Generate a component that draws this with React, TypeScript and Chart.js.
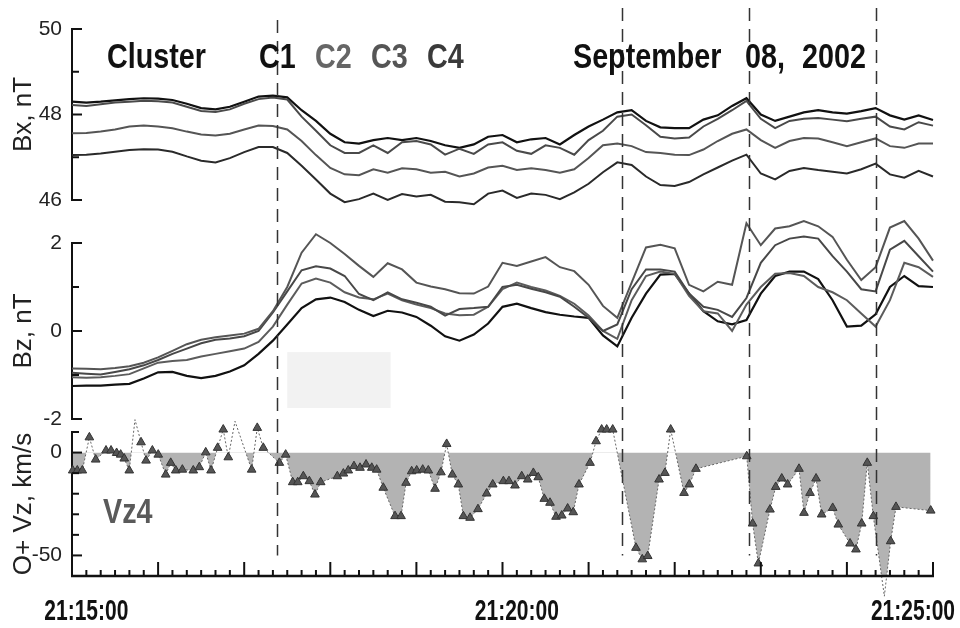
import React, { useEffect, useRef } from 'react';
import { Chart, registerables } from 'chart.js';

Chart.register(...registerables);
Chart.defaults.font.family = "'Liberation Sans', Arial, sans-serif";

// time in seconds from axis start (21:14:50)
const timeSec = [0, 10, 20, 30, 40, 50, 60, 70, 80, 90, 100, 110, 120, 130, 140, 150, 160, 170, 180, 190, 200, 210, 220, 230, 240, 250, 260, 270, 280, 290, 300, 310, 320, 330, 340, 350, 360, 370, 380, 390, 400, 410, 420, 430, 440, 450, 460, 470, 480, 490, 500, 510, 520, 530, 540, 550, 560, 570, 580, 590, 600];

// Bx, nT
const bxC1 = [48.30, 48.28, 48.30, 48.33, 48.36, 48.38, 48.37, 48.34, 48.25, 48.15, 48.12, 48.18, 48.30, 48.42, 48.44, 48.40, 48.10, 47.85, 47.55, 47.35, 47.32, 47.40, 47.45, 47.40, 47.45, 47.38, 47.28, 47.22, 47.30, 47.48, 47.52, 47.35, 47.42, 47.45, 47.30, 47.52, 47.72, 47.88, 48.05, 48.10, 47.85, 47.70, 47.68, 47.68, 47.88, 47.98, 48.20, 48.38, 48.00, 47.85, 47.95, 48.05, 48.10, 48.05, 48.02, 48.08, 48.15, 47.98, 47.88, 47.98, 47.87];
const bxC2 = [48.22, 48.20, 48.24, 48.28, 48.30, 48.32, 48.31, 48.28, 48.18, 48.08, 48.06, 48.12, 48.25, 48.36, 48.40, 48.35, 47.95, 47.62, 47.28, 47.10, 47.10, 47.28, 47.10, 47.35, 47.38, 47.30, 47.06, 47.20, 47.08, 47.30, 47.35, 47.15, 47.08, 47.28, 47.22, 47.06, 47.40, 47.62, 47.95, 48.00, 47.75, 47.48, 47.44, 47.46, 47.72, 47.90, 48.10, 48.32, 47.90, 47.68, 47.85, 47.90, 47.92, 47.88, 47.84, 47.90, 47.95, 47.72, 47.65, 47.82, 47.74];
const bxC3 = [47.56, 47.57, 47.60, 47.65, 47.72, 47.74, 47.72, 47.68, 47.60, 47.53, 47.51, 47.55, 47.65, 47.74, 47.73, 47.65, 47.38, 47.05, 46.75, 46.60, 46.58, 46.72, 46.64, 46.74, 46.72, 46.64, 46.66, 46.55, 46.62, 46.76, 46.80, 46.70, 46.74, 46.70, 46.64, 46.72, 46.98, 47.28, 47.32, 47.26, 47.12, 47.10, 47.06, 47.05, 47.18, 47.38, 47.55, 47.65, 47.40, 47.22, 47.38, 47.45, 47.44, 47.35, 47.26, 47.35, 47.44, 47.26, 47.22, 47.32, 47.32];
const bxC4 = [47.05, 47.06, 47.09, 47.13, 47.17, 47.19, 47.18, 47.13, 47.02, 46.92, 46.88, 46.98, 47.12, 47.24, 47.24, 47.10, 46.80, 46.48, 46.15, 45.95, 46.02, 46.15, 46.00, 46.14, 46.08, 46.12, 45.96, 45.95, 45.90, 46.15, 46.22, 46.05, 46.15, 46.12, 46.02, 46.18, 46.38, 46.65, 46.88, 46.82, 46.55, 46.35, 46.33, 46.42, 46.60, 46.76, 46.92, 47.06, 46.62, 46.48, 46.68, 46.75, 46.70, 46.66, 46.62, 46.72, 46.85, 46.60, 46.52, 46.68, 46.55];

// Bz, nT
const bzC1 = [-0.85, -0.86, -0.87, -0.84, -0.80, -0.72, -0.60, -0.45, -0.30, -0.20, -0.14, -0.10, -0.06, 0.05, 0.45, 1.00, 1.78, 2.20, 2.00, 1.75, 1.48, 1.23, 1.54, 1.40, 1.10, 1.01, 0.95, 0.86, 0.85, 1.01, 1.55, 1.48, 1.58, 1.68, 1.45, 1.36, 1.05, 0.57, 0.30, 1.10, 1.90, 1.96, 1.88, 1.05, 0.90, 1.12, 1.05, 2.45, 1.95, 2.33, 2.38, 2.50, 2.38, 2.14, 1.62, 1.16, 1.45, 2.35, 2.50, 2.10, 1.60];
const bzC2 = [-0.95, -0.97, -0.99, -0.93, -0.87, -0.78, -0.66, -0.52, -0.40, -0.28, -0.20, -0.17, -0.12, 0.00, 0.42, 0.90, 1.38, 1.47, 1.42, 1.25, 0.84, 0.70, 0.88, 0.72, 0.64, 0.55, 0.35, 0.50, 0.52, 0.55, 1.00, 1.05, 0.96, 0.88, 0.78, 0.55, 0.30, 0.00, 0.15, 0.95, 1.40, 1.40, 1.35, 0.85, 0.55, 0.48, 0.32, 0.75, 1.55, 1.95, 2.10, 2.15, 2.10, 1.70, 1.35, 0.95, 0.90, 1.85, 2.05, 1.70, 1.35];
const bzC3 = [-1.05, -1.06, -1.05, -1.02, -0.98, -0.85, -0.72, -0.68, -0.66, -0.58, -0.52, -0.46, -0.40, -0.25, 0.10, 0.60, 1.08, 1.19, 1.10, 0.88, 0.76, 0.72, 0.85, 0.70, 0.60, 0.52, 0.40, 0.36, 0.37, 0.55, 0.95, 1.10, 1.00, 0.92, 0.80, 0.62, 0.35, 0.00, -0.18, 0.70, 1.25, 1.35, 1.30, 0.80, 0.45, 0.40, 0.00, 0.60, 1.00, 1.30, 1.32, 1.25, 1.00, 0.88, 0.70, 0.40, 0.10, 0.70, 1.55, 1.45, 1.23];
const bzC4 = [-1.25, -1.24, -1.24, -1.22, -1.20, -1.08, -0.94, -0.93, -1.02, -1.07, -1.02, -0.92, -0.78, -0.52, -0.22, 0.15, 0.52, 0.72, 0.76, 0.66, 0.48, 0.34, 0.46, 0.42, 0.32, 0.12, -0.12, -0.22, -0.08, 0.17, 0.55, 0.62, 0.52, 0.43, 0.37, 0.33, 0.30, -0.10, -0.35, 0.30, 0.85, 1.28, 1.30, 0.85, 0.45, 0.22, 0.15, 0.25, 0.85, 1.25, 1.35, 1.35, 1.18, 0.70, 0.10, 0.12, 0.38, 1.00, 1.25, 1.02, 1.00];

// O+ Vz (C4), km/s
const vzTime = [0.5, 3.7, 7.2, 12.1, 16.5, 23.7, 27.2, 31.1, 33.9, 36.4, 39.9, 43.9, 48.1, 51.6, 56.0, 60.1, 65.3, 68.8, 72.3, 76.9, 84.5, 88.7, 93.2, 96.9, 101.5, 105.4, 108.9, 113.6, 125.2, 129.1, 133.3, 144.5, 148.9, 153.8, 157.3, 161.2, 165.4, 169.3, 173.3, 184.9, 189.1, 192.5, 196.5, 200.7, 204.9, 208.9, 212.3, 216.9, 225.1, 229.3, 232.8, 236.7, 240.2, 244.4, 248.3, 253.0, 257.1, 261.1, 265.0, 269.2, 272.7, 277.4, 282.9, 289.0, 293.2, 300.6, 304.5, 308.7, 313.4, 317.6, 321.5, 324.9, 329.1, 333.1, 337.3, 341.3, 345.4, 349.3, 353.3, 361.0, 365.2, 369.1, 372.6, 376.8, 393.0, 397.4, 401.2, 409.1, 413.2, 417.2, 426.5, 430.2, 434.8, 470.2, 474.3, 478.3, 486.4, 490.4, 494.6, 498.7, 506.6, 510.1, 514.3, 518.5, 522.4, 530.1, 534.0, 542.2, 546.3, 550.3, 554.2, 558.4, 566.1, 570.5, 574.2, 598.4];
const vzValue = [-8.7, -8.7, -8.7, 7.4, -3.4, 1.0, 1.0, -0.2, -1.0, -2.9, -8.7, 16.0, 5.0, -3.9, 1.0, -1.0, -10.7, -5.0, -8.7, -8.3, -8.7, -7.1, 0.1, -8.7, 2.3, 11.2, -2.3, 15.2, -8.3, 12.0, 2.3, -5.0, -1.0, -14.4, -14.4, -11.5, -13.9, -20.4, -14.4, -11.5, -10.2, -8.7, -6.6, -7.4, -5.8, -7.4, -8.3, -17.1, -30.9, -30.9, -14.7, -9.1, -8.7, -8.3, -8.7, -17.6, -9.6, 4.2, -10.7, -15.5, -30.9, -31.7, -27.5, -19.9, -15.5, -13.9, -13.9, -16.0, -11.5, -13.1, -9.9, -12.0, -22.5, -24.4, -31.2, -30.6, -27.2, -29.0, -15.5, -5.0, 5.5, 11.2, 11.2, 11.2, -46.3, -51.9, -50.3, -13.1, -9.9, 11.2, -19.6, -15.5, -7.9, -1.8, -34.5, -53.9, -27.7, -16.7, -12.6, -15.5, -7.9, -29.3, -19.6, -12.6, -30.1, -26.9, -35.0, -44.2, -47.1, -34.5, -5.0, -30.9, -69.8, -43.1, -26.4, -28.2];

// event markers (dashed verticals), s
const eventTimes = [143, 383, 472, 560];

// axis ticks
const bxTicks = [46, 47, 48, 49, 50];
const bxLabeled = [46, 48, 50];
const bzTicks = [-2, -1, 0, 1, 2];
const bzLabeled = [-2, 0, 2];
const vzTicks = [-50, -40, -30, -20, -10, 0, 10];
const vzLabeled = [-50, 0];
const xLabelTimes = [10, 310, 610];
const xLabelTexts = ['21:15:00', '21:20:00', '21:25:00'];

// faint rectangle present in the figure (data coords of Bz panel)
const shadeBox = { x0: 150, x1: 222, yTop: -0.48, yBottom: -1.75 };

const W = 960;
const H = 628;

const pts = (ys: number[], xs: number[]) => xs.map((x, i) => ({ x, y: ys[i] }));

const yTickMarks = {
  id: 'yTickMarks',
  afterDraw(chart: any) {
    const s = chart.scales.y;
    const ctx = chart.ctx;
    ctx.save();
    ctx.strokeStyle = '#111';
    ctx.lineWidth = 2;
    s.ticks.forEach((t: any) => {
      const y = s.getPixelForValue(t.value);
      const len = t.label ? 10 : 7;
      ctx.beginPath();
      ctx.moveTo(s.right, y);
      ctx.lineTo(s.right + len, y);
      ctx.stroke();
    });
    ctx.restore();
  },
};

const shadePlugin = {
  id: 'shadeBox',
  beforeDatasetsDraw(chart: any) {
    const { ctx, scales: { x, y } } = chart;
    const x0 = x.getPixelForValue(shadeBox.x0);
    const x1 = x.getPixelForValue(shadeBox.x1);
    const y0 = y.getPixelForValue(shadeBox.yTop);
    const y1 = y.getPixelForValue(shadeBox.yBottom);
    ctx.save();
    ctx.fillStyle = '#f2f2f2';
    ctx.fillRect(x0, y0, x1 - x0, y1 - y0);
    ctx.restore();
  },
};

const eventLines = {
  id: 'eventLines',
  afterDatasetsDraw(chart: any) {
    const { ctx, scales: { x, y } } = chart;
    ctx.save();
    ctx.setLineDash([13, 8]);
    ctx.strokeStyle = '#333';
    ctx.lineWidth = 1.5;
    eventTimes.forEach((t, i) => {
      const px = Math.round(x.getPixelForValue(t)) + 0.5;
      ctx.beginPath();
      ctx.moveTo(px, i === 0 ? 20 : 8);
      ctx.lineTo(px, y.getPixelForValue(-50));
      ctx.stroke();
    });
    ctx.restore();
  },
};

const timeAxis = {
  id: 'timeAxis',
  afterDraw(chart: any) {
    const { ctx, chartArea, scales: { x } } = chart;
    const yb = chartArea.bottom;
    ctx.save();
    ctx.strokeStyle = '#111';
    ctx.lineWidth = 2.5;
    ctx.beginPath();
    ctx.moveTo(chartArea.left - 1, yb);
    ctx.lineTo(chartArea.right + 1, yb);
    ctx.stroke();
    ctx.lineWidth = 2;
    for (let t = 0; t <= 600; t += 10) {
      const px = x.getPixelForValue(t);
      const len = t % 60 === 0 ? 14 : 6;
      ctx.beginPath();
      ctx.moveTo(px, yb);
      ctx.lineTo(px, yb - len);
      ctx.stroke();
    }
    ctx.fillStyle = '#111';
    ctx.font = "bold 30px 'Liberation Sans', Arial, sans-serif";
    ctx.textAlign = 'center';
    ctx.textBaseline = 'alphabetic';
    const sx = 0.7;
    xLabelTimes.forEach((t, i) => {
      const w = ctx.measureText(xLabelTexts[i]).width * sx;
      let cx = x.getPixelForValue(t);
      if (cx + w / 2 > W - 5) cx = W - 5 - w / 2;
      ctx.save();
      ctx.translate(cx, yb + 44);
      ctx.scale(sx, 1);
      ctx.fillText(xLabelTexts[i], 0, 0);
      ctx.restore();
    });
    ctx.restore();
  },
};

function panelOptions(p: { min: number; max: number; top: number; bottom: number; title: string; ticks: number[]; labeled: number[] }) {
  return {
    responsive: false,
    animation: false,
    devicePixelRatio: 1,
    events: [],
    layout: { padding: { left: 0, right: 27, top: p.top, bottom: H - p.bottom } },
    plugins: { legend: { display: false }, tooltip: { enabled: false } },
    scales: {
      x: { type: 'linear', min: 0, max: 600, display: false },
      y: {
        type: 'linear',
        min: p.min,
        max: p.max,
        afterFit: (s: any) => {
          s.width = 72;
        },
        afterBuildTicks: (s: any) => {
          s.ticks = p.ticks.map((v) => ({ value: v }));
        },
        grid: { display: false, drawTicks: false },
        border: { display: true, color: '#111', width: 2 },
        ticks: {
          autoSkip: false,
          padding: 10,
          color: '#222',
          font: { size: 21 },
          callback: (v: any) => (p.labeled.includes(Number(v)) ? String(v) : ''),
        },
        title: {
          display: true,
          text: p.title,
          color: '#222',
          font: { size: 26 },
          padding: { top: 8, bottom: 0 },
        },
      },
    },
  } as any;
}

const lineDs = (label: string, xs: number[], ys: number[], color: string, width: number) => ({
  label,
  data: pts(ys, xs),
  borderColor: color,
  borderWidth: width,
  pointRadius: 0,
  fill: false,
  clip: false,
});

const headerTexts = [
  { text: 'Cluster', left: 107, color: '#111' },
  { text: 'C1', left: 259, color: '#111' },
  { text: 'C2', left: 315, color: '#666' },
  { text: 'C3', left: 371, color: '#555' },
  { text: 'C4', left: 427, color: '#3a3a3a' },
  { text: 'September', left: 573, color: '#111' },
  { text: '08,', left: 745, color: '#111' },
  { text: '2002', left: 802, color: '#111' },
];

export default function App() {
  const bxRef = useRef<HTMLCanvasElement>(null);
  const bzRef = useRef<HTMLCanvasElement>(null);
  const vzRef = useRef<HTMLCanvasElement>(null);

  useEffect(() => {
    const bx = new Chart(bxRef.current as HTMLCanvasElement, {
      type: 'line',
      data: {
        datasets: [
          lineDs('C4', timeSec, bxC4, '#2a2a2a', 2),
          lineDs('C3', timeSec, bxC3, '#555', 2),
          lineDs('C2', timeSec, bxC2, '#4a4a4a', 2),
          lineDs('C1', timeSec, bxC1, '#111', 2.2),
        ],
      },
      options: panelOptions({ min: 46, max: 50, top: 29, bottom: 200, title: 'Bx, nT', ticks: bxTicks, labeled: bxLabeled }),
      plugins: [yTickMarks],
    } as any);

    const bz = new Chart(bzRef.current as HTMLCanvasElement, {
      type: 'line',
      data: {
        datasets: [
          lineDs('C1', timeSec, bzC1, '#555', 2),
          lineDs('C2', timeSec, bzC2, '#484848', 2),
          lineDs('C3', timeSec, bzC3, '#5c5c5c', 2),
          lineDs('C4', timeSec, bzC4, '#111', 2.2),
        ],
      },
      options: panelOptions({ min: -2, max: 2, top: 243, bottom: 419, title: 'Bz, nT', ticks: bzTicks, labeled: bzLabeled }),
      plugins: [yTickMarks, shadePlugin],
    } as any);

    const vz = new Chart(vzRef.current as HTMLCanvasElement, {
      type: 'line',
      data: {
        datasets: [
          {
            label: 'Vz4',
            data: pts(vzValue, vzTime),
            borderColor: '#666',
            borderWidth: 1,
            borderDash: [2, 2],
            pointStyle: 'triangle',
            pointRadius: 5,
            pointBackgroundColor: '#555',
            pointBorderColor: '#333',
            pointBorderWidth: 1,
            fill: { target: { value: 0 }, above: 'rgba(0,0,0,0)', below: '#b3b3b3' },
            clip: false,
          },
        ],
      },
      options: panelOptions({ min: -60, max: 10, top: 432, bottom: 576, title: 'O+ Vz, km/s', ticks: vzTicks, labeled: vzLabeled }),
      plugins: [yTickMarks, timeAxis, eventLines],
    } as any);

    return () => {
      bx.destroy();
      bz.destroy();
      vz.destroy();
    };
  }, []);

  const canvasStyle: React.CSSProperties = { position: 'absolute', left: 0, top: 0, width: W, height: H };
  const labelStyle: React.CSSProperties = {
    position: 'absolute',
    fontFamily: "'Liberation Sans', Arial, sans-serif",
    fontWeight: 'bold',
    fontSize: 35,
    lineHeight: 1,
    whiteSpace: 'nowrap',
    transform: 'scaleX(0.82)',
    transformOrigin: 'left top',
  };

  return (
    <div style={{ position: 'fixed', left: 0, top: 0, width: W, height: H, background: '#fff', overflow: 'hidden' }}>
      <canvas ref={bxRef} width={W} height={H} style={canvasStyle} />
      <canvas ref={bzRef} width={W} height={H} style={canvasStyle} />
      <canvas ref={vzRef} width={W} height={H} style={canvasStyle} />
      {headerTexts.map((h) => (
        <div key={h.text} style={{ ...labelStyle, left: h.left, top: 38, color: h.color }}>
          {h.text}
        </div>
      ))}
      <div style={{ ...labelStyle, left: 103, top: 493, color: '#5a5a5a' }}>Vz4</div>
    </div>
  );
}
